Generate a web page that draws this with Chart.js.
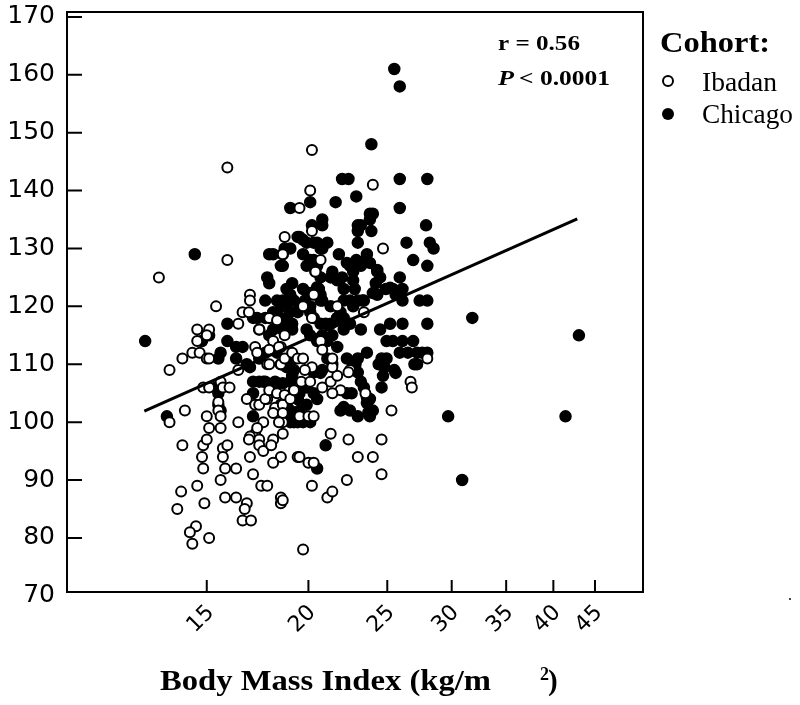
<!DOCTYPE html>
<html><head><meta charset="utf-8">
<script src="https://cdn.jsdelivr.net/npm/chart.js@4.4.0/dist/chart.umd.min.js"></script>
<style>html,body{margin:0;padding:0;background:#fff;}canvas{display:block;}</style>
</head><body>
<canvas id="c" width="800" height="705"></canvas>
<script>
const xTicks = [15, 20, 25, 30, 35, 40, 45];
const yTicks = [70, 80, 90, 100, 110, 120, 130, 140, 150, 160, 170];
const seriesNames = ['Ibadan', 'Chicago'];
const xTitle = 'Body Mass Index (kg/m';
const statR = 'r = 0.56';
const statP = '< 0.0001';

// [BMI, blood pressure] pairs
const ibadan = [
[20.2,147],[15.9,144],[24.0,141],[20.1,140],[19.5,137],[18.7,132],[18.6,129],[24.7,130],[20.3,122],[23.4,119],
[15.9,128],[13.1,125],[16.95,122],[16.95,121],[15.4,120],[16.6,119],[16.9,119],[16.4,117],[14.6,116],[15.1,116],[17.4,116],
[14.6,114],[15.0,115],[14.0,111],[14.4,112],[14.7,112],[15.0,111],[15.1,111],[17.2,113],[17.3,112],[17.8,110],[16.4,109],[13.5,109],
[14.85,106],[15.1,106],[15.6,107],[15.7,106],[16.0,106],[16.8,104],[17.2,103],[17.8,104],[13.5,100],[14.1,102],[15.5,103.5],[15.5,102],
[15.0,101],[15.6,101],[15.1,99],[15.6,99],[17.6,100],[16.4,100],[17.2,98],[16.95,97.5],[14.0,96],[14.85,96],[14.8,94],[14.85,92],[15.0,97],
[15.7,95.5],[15.7,94],[15.8,92],[17.3,99],[16.9,97],[17.4,97],[15.9,96],[16.3,92],[16.95,94],[17.1,91],
[18.2,102],[18.1,97],[18.6,98],[18.6,100],[17.4,96],[17.6,95],[18.0,96],[17.5,89],[17.8,89],[18.5,94],[18.1,93],[19.4,94],
[13.95,88],[14.6,89],[13.8,85],[14.9,86],[15.6,90],[15.8,87],[16.3,87],[16.8,86],[16.7,85],[16.6,83],[17.0,83],[18.5,87],[18.5,86],
[14.55,82],[14.3,81],[14.4,79],[15.1,80],
[18.8,112],[18.5,113],[18.1,114],[17.9,110],[17.4,103],[17.7,104],[18.2,102.5],[18.6,103],
[17.9,118],[18.3,117.6],[18.7,115],[18.4,113],[17.9,112.5],[19.7,120],[21.7,120],[20.2,118],[20.7,114],[20.8,112.5],
[28.0,111],[26.7,107],[26.8,106],[22.5,109],[22.4,108.6],[23.5,105],[20.8,106],[21.3,107],[21.7,108],[21.9,105.5],[21.4,105],[21.4,109.5],[21.4,111],
[20.2,109.5],[19.8,109],[19.6,107],[20.1,107],[18.5,110],[18.7,111],[19.1,112],[19.4,111],[19.7,111],
[17.9,105.5],[18.3,105],[18.7,104.7],[19.0,104],[19.2,105.5],[18.1,101.6],[18.6,101.6],[18.4,100],[19.5,101],[20.0,101],[20.3,101],
[25.3,102],[24.6,97],[24.6,91],[22.4,97],[23.0,94],[24.0,94],[22.3,90],[21.3,98],[19.5,94],[20.0,93],[20.3,93],[20.2,89],[21.1,87],[21.4,88],[18.6,86.5],[19.7,78],
[20.2,133],[20.7,128],[20.4,126]
];

const chicago = [
[25.5,161],[25.9,158],[23.9,148],[22.0,142],[22.4,142],[25.9,142],[28.0,142],
[20.1,138],[21.6,138],[22.9,139],[19.0,137],[23.8,136],[24.0,136],[23.8,135],[25.9,137],
[20.2,134],[20.8,135],[20.8,134],[19.4,132],[19.5,132],[23.0,134],[23.0,133],[23.2,134],[23.9,133],[27.9,134],
[26.4,131],[28.2,131],[28.5,130],[19.9,131],[20.3,131],[20.7,130],[21.1,131],[20.8,130],[18.7,130],[19.0,130],
[19.7,129],[20.1,128],[20.3,128],[21.8,129],[22.9,128],[23.6,129],[23.5,128],[26.9,128],[28.0,127],
[22.5,127],[23.2,127],[22.7,126],[21.4,126],[21.3,125],[22.0,125],[20.5,127],[20.4,126],[20.7,125],
[24.3,126],[24.2,124],[24.3,122],[25.9,125],[24.9,123],[25.4,123],[25.6,122],[18.8,123],[19.1,124],
[26.1,121],[26.1,117],[27.4,121],[28.0,121],[28.0,117],[31.8,118],
[22.1,123],[22.8,123],[23.3,121],[23.0,121],[22.5,121],[21.9,119],[21.7,118],[22.1,118],
[20.6,123],[20.7,122],[20.8,121],[18.5,127],[18.6,127],[19.2,121],[18.8,120],[19.4,119],[19.8,121],[20.1,119],[20.3,118],[20.7,117],[21.0,117],
[14.5,129],[17.9,129],[17.8,125],[17.9,124],[17.7,121],[18.3,121],[18.6,121],[17.3,118],[17.7,118],[18.5,118],[18.8,118],
[15.9,117],[18.5,117],[19.1,117],[17.1,118],[17.9,118],[18.1,116],
[14.8,114],[15.1,115],[15.9,114],[16.3,113],[16.6,113],[15.6,112],[15.5,111],[16.3,111],[17.4,111],[17.7,112],[16.95,109.5],[16.8,110],
[12.6,114],[17.1,107],[17.4,107],[17.6,107],[15.4,106],[15.5,105],[17.1,105],[13.4,101],[17.1,101],[15.5,103],[15.6,102],
[17.7,107],[18.2,107],[18.5,110],[18.8,109.5],[19.1,108],[19.2,105.5],[19.4,104],[18.9,101.5],[19.2,100],
[17.4,116],[17.9,115],[18.6,116],[19.1,116],
[18.1,119],[18.5,120],[19.0,119],[19.5,120],[20.1,120],[20.7,121],[21.3,120],[22.1,121],[22.7,120],[23.4,121],
[21.3,117],[21.7,118],[22.1,116],[22.5,117],[23.2,116],[19.9,116],[20.1,115],[20.5,114],[20.8,115],[21.1,114],[21.4,115],[21.7,113],
[24.5,116],[25.2,117],[24.95,114],[25.4,114],[26.1,114],[26.9,114],[26.5,112],[27.2,112],[27.6,112],[28.0,112],
[24.6,111],[24.95,111],[24.8,109.5],[25.5,109],[25.6,108.5],[27.2,110],[24.7,108],[24.6,106],
[23.6,112],[23.0,111],[22.85,110],[23.0,108.6],[23.2,107],[23.4,106],[23.6,104.3],[22.3,105],[22.6,105],[23.8,104],[24.0,102],[23.8,101],
[21.9,102],[22.1,102.6],[22.5,102],[23.0,101],[20.5,104],[20.3,105],[19.9,103],[19.5,105],[19.9,106],
[21.1,111],[21.4,110],[20.8,109],[20.7,108.5],[20.3,108.6],[22.3,111],[22.7,110],
[19.2,109],[19.0,107],[18.6,106.7],[18.3,106.7],[18.8,112],[19.2,111],[18.3,112],
[18.5,103],[18.8,103],[19.0,102],[19.4,104],[19.5,102],[19.0,100],[19.4,100],[19.7,100],[20.1,100],
[19.7,131.5],[20.5,131],[23.0,131],[18.1,129],[18.6,129],[19.9,127],[22.3,127.5],[23.4,127.5],[23.8,127.5],[24.3,126.3],
[21.7,124.5],[22.7,124.5],[24.5,125],[19.0,122],[19.7,123],[20.5,123.3],[20.1,122.3],[24.0,122.3],[25.2,123.2],[26.1,123],
[25.9,112],[24.4,110],[27.0,110],[23.6,103.3],[23.7,101.7],[29.7,101],[30.9,90],[21.0,96],[20.5,92],[43.0,115],[41.4,101]
];

// regression line end points
const fitLine = [[12.57, 101.9], [42.8, 135.1]];

const toXY = arr => arr.map(([x, y]) => ({x, y}));

function stretchText(ctx, text, font, x, y, width) {
  ctx.save();
  ctx.font = font;
  const w = ctx.measureText(text).width;
  ctx.translate(x, y);
  ctx.scale(width ? width / w : 1, 1);
  ctx.fillText(text, 0, 0);
  ctx.restore();
}

const decor = {
  id: 'decor',
  afterDatasetsDraw(chart) {
    const {ctx, chartArea: a, scales} = chart;
    ctx.save();
    ctx.strokeStyle = '#000';
    ctx.lineWidth = 2;
    ctx.strokeRect(a.left, a.top, a.right - a.left, a.bottom - a.top);
    ctx.beginPath();
    yTicks.forEach(v => {
      const p = scales.y.getPixelForValue(v);
      if (p > a.top + 2 && p < a.bottom - 2) { ctx.moveTo(a.left, p); ctx.lineTo(a.left + 15, p); }
    });
    xTicks.forEach(v => {
      const p = scales.x.getPixelForValue(v);
      ctx.moveTo(p, a.bottom); ctx.lineTo(p, a.bottom - 12);
    });
    ctx.stroke();
    ctx.restore();
  },
  afterDraw(chart) {
    const ctx = chart.ctx;
    ctx.save();
    ctx.fillStyle = '#000';
    ctx.textBaseline = 'alphabetic';
    ctx.textAlign = 'left';
    const serif = '"Liberation Serif", "Times New Roman", serif';
    // stats
    stretchText(ctx, statR, 'bold 22px ' + serif, 498, 50, 82);
    stretchText(ctx, 'P', 'italic bold 22px ' + serif, 498, 85, 16);
    stretchText(ctx, statP, 'bold 22px ' + serif, 519, 85, 91);
    // legend
    stretchText(ctx, 'Cohort:', 'bold 29px ' + serif, 660, 52, 110);
    stretchText(ctx, seriesNames[0], '27px ' + serif, 702, 91, 75);
    stretchText(ctx, seriesNames[1], '27px ' + serif, 702, 123, 91);
    ctx.lineWidth = 2;
    ctx.strokeStyle = '#000';
    ctx.beginPath(); ctx.arc(668, 81, 5, 0, Math.PI * 2); ctx.stroke();
    ctx.beginPath(); ctx.arc(668, 114, 6, 0, Math.PI * 2); ctx.fill();
    // x title
    stretchText(ctx, xTitle, 'bold 29px ' + serif, 160, 690, 331);
    stretchText(ctx, '2', 'bold 18px ' + serif, 540, 680, 0);
    stretchText(ctx, ')', 'bold 29px ' + serif, 548, 690, 0);
    // stray dot
    ctx.font = '16px ' + serif;
    ctx.fillText('.', 788, 600);
    ctx.restore();
  }
};

new Chart(document.getElementById('c'), {
  type: 'scatter',
  data: {
    datasets: [
      {
        label: 'fit', data: toXY(fitLine), showLine: true, pointRadius: 0,
        borderColor: '#000', borderWidth: 3, fill: false
      },
      {
        label: seriesNames[0], data: toXY(ibadan), pointRadius: 5, borderWidth: 2,
        borderColor: '#000', backgroundColor: '#fff'
      },
      {
        label: seriesNames[1], data: toXY(chicago), pointRadius: 5.5, borderWidth: 1.5,
        borderColor: '#000', backgroundColor: '#000'
      }
    ]
  },
  options: {
    responsive: false,
    devicePixelRatio: 1,
    animation: false,
    layout: {padding: {left: 0, top: 12, right: 157, bottom: 0}},
    plugins: {legend: {display: false}, tooltip: {enabled: false}},
    scales: {
      x: {
        type: 'logarithmic', position: 'bottom', min: 10.1, max: 51.55,
        grid: {display: false, drawTicks: false}, border: {display: false},
        afterBuildTicks: s => { s.ticks = xTicks.map(v => ({value: v})); },
        afterFit: s => { s.height = 113; s.paddingLeft = 0; s.paddingRight = 0; },
        ticks: {
          autoSkip: false, minRotation: 45, maxRotation: 45, padding: 8, labelOffset: 4,
          color: '#000', font: {family: '"DejaVu Sans"', size: 22},
          callback: v => String(v)
        }
      },
      y: {
        type: 'linear', min: 70.66, max: 170.85,
        grid: {display: false, drawTicks: false}, border: {display: false},
        afterBuildTicks: s => { s.ticks = yTicks.map(v => ({value: v})); },
        afterFit: s => { s.width = 67; s.paddingTop = 0; s.paddingBottom = 0; },
        ticks: {padding: 12, color: '#000', font: {family: '"DejaVu Sans"', size: 25},
          callback: v => String(v)}
      }
    }
  },
  plugins: [decor]
});
</script>
</body></html>
